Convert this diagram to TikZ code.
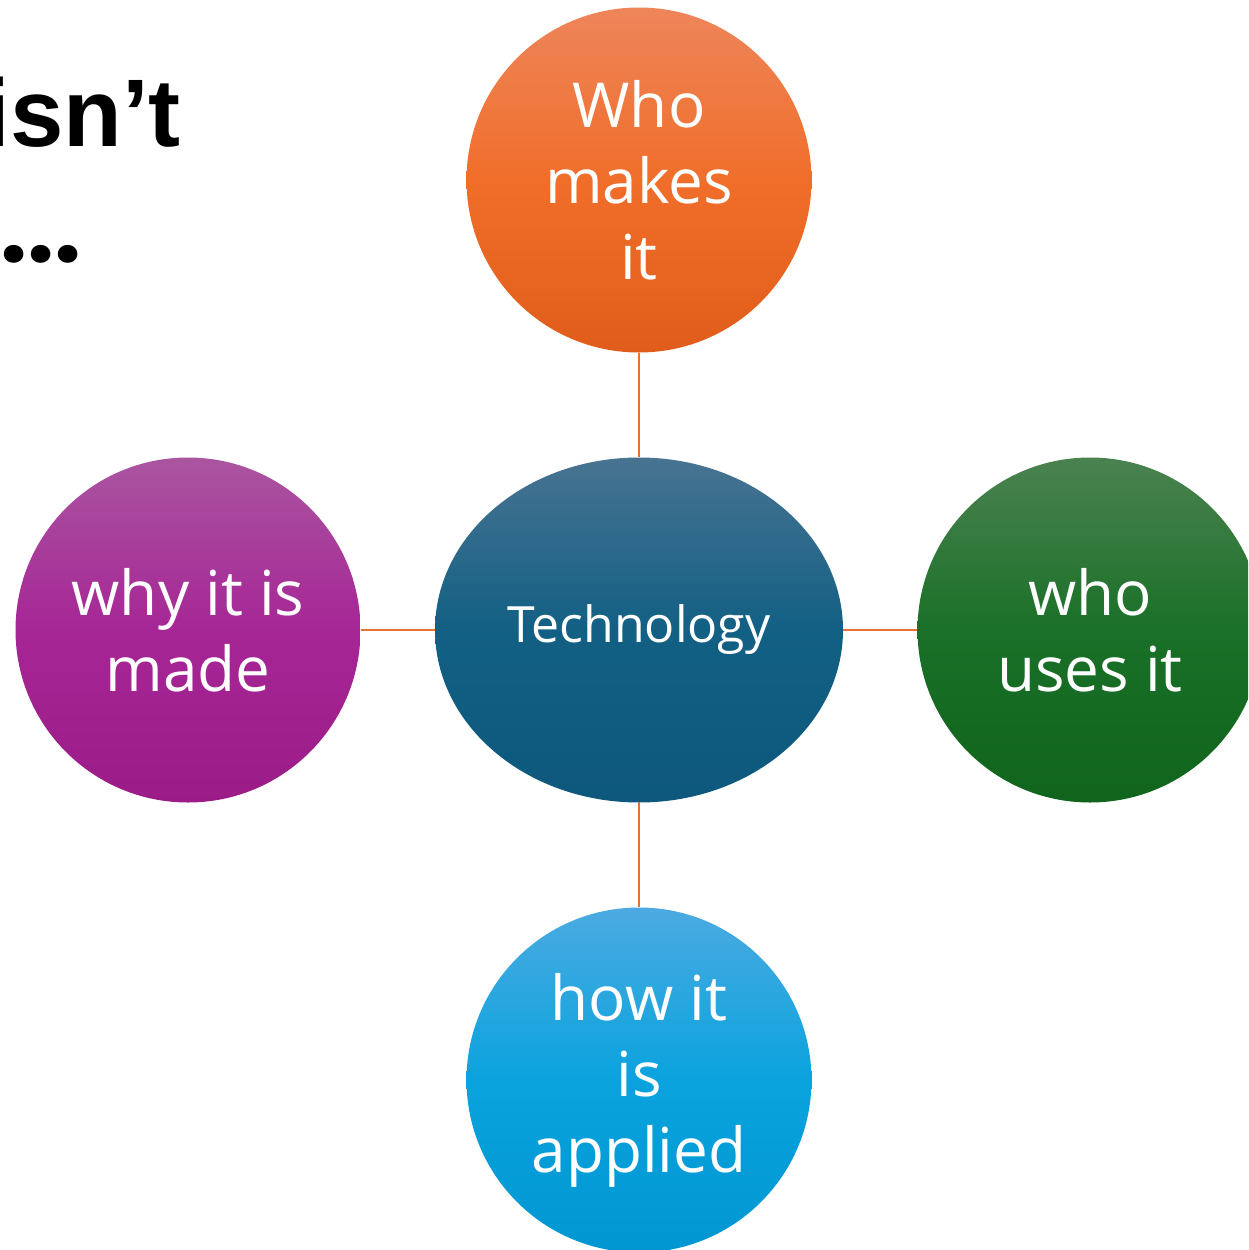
\documentclass[tikz,border=0pt]{standalone}
\usepackage{fontspec}
\setmainfont{Open Sans}
\newfontfamily\titlefont{Liberation Sans}
\newfontfamily\dotfont{Poppins}
\usetikzlibrary{shapes.geometric}
\definecolor{orTop}{RGB}{238,133,90}
\definecolor{orMid}{RGB}{240,110,42}
\definecolor{orBot}{RGB}{224,92,26}
\definecolor{blTop}{RGB}{72,115,145}
\definecolor{blMid}{RGB}{18,96,132}
\definecolor{blBot}{RGB}{13,88,124}
\definecolor{puTop}{RGB}{170,85,160}
\definecolor{puMid}{RGB}{166,38,150}
\definecolor{puBot}{RGB}{155,28,135}
\definecolor{grTop}{RGB}{75,130,80}
\definecolor{grMid}{RGB}{26,112,40}
\definecolor{grBot}{RGB}{16,100,28}
\definecolor{cyTop}{RGB}{75,170,225}
\definecolor{cyMid}{RGB}{10,163,222}
\definecolor{cyBot}{RGB}{0,150,210}
\definecolor{connC}{RGB}{233,113,50}
\tikzset{
  bubble/.style={circle, minimum size=345pt, inner sep=0pt, text=white, align=center,
    font=\fontsize{62}{76}\selectfont},
  hub/.style={ellipse, minimum width=408pt, minimum height=345pt, inner sep=0pt, text=white,
    font=\fontsize{50}{60}\selectfont, top color=blTop, bottom color=blBot, middle color=blMid},
  conn/.style={draw=connC, line width=2.5pt},
  titletext/.style={inner sep=0pt, font=\titlefont\bfseries\fontsize{96}{110}\selectfont, text=black}
}
\begin{document}
\begin{tikzpicture}[x=1pt,y=-1pt]
\useasboundingbox (0,0) rectangle (1248,1250);
\clip (0,0) rectangle (1248,1250);
\node[titletext, anchor=base east] (t1) at (181,146) {isn’t};
\node[titletext, font=\dotfont\bfseries\fontsize{96}{110}\selectfont, anchor=base east] (t2) at (82,262) {...};
\node[hub] (tech) at (639,630) {Technology};
\node[bubble, top color=orTop, bottom color=orBot, middle color=orMid] (make) at (639,180) {Who\\makes\\it};
\node[bubble, top color=puTop, bottom color=puBot, middle color=puMid] (why) at (188,630) {why it is\\made};
\node[bubble, top color=grTop, bottom color=grBot, middle color=grMid] (use) at (1090,630) {who\\uses it};
\node[bubble, top color=cyTop, bottom color=cyBot, middle color=cyMid] (how) at (639,1080) {how it\\is\\applied};
\draw[conn] (make.south) -- (tech.north);
\draw[conn] (why.east) -- (tech.west);
\draw[conn] (tech.east) -- (use.west);
\draw[conn] (tech.south) -- (how.north);
\end{tikzpicture}
\end{document}
